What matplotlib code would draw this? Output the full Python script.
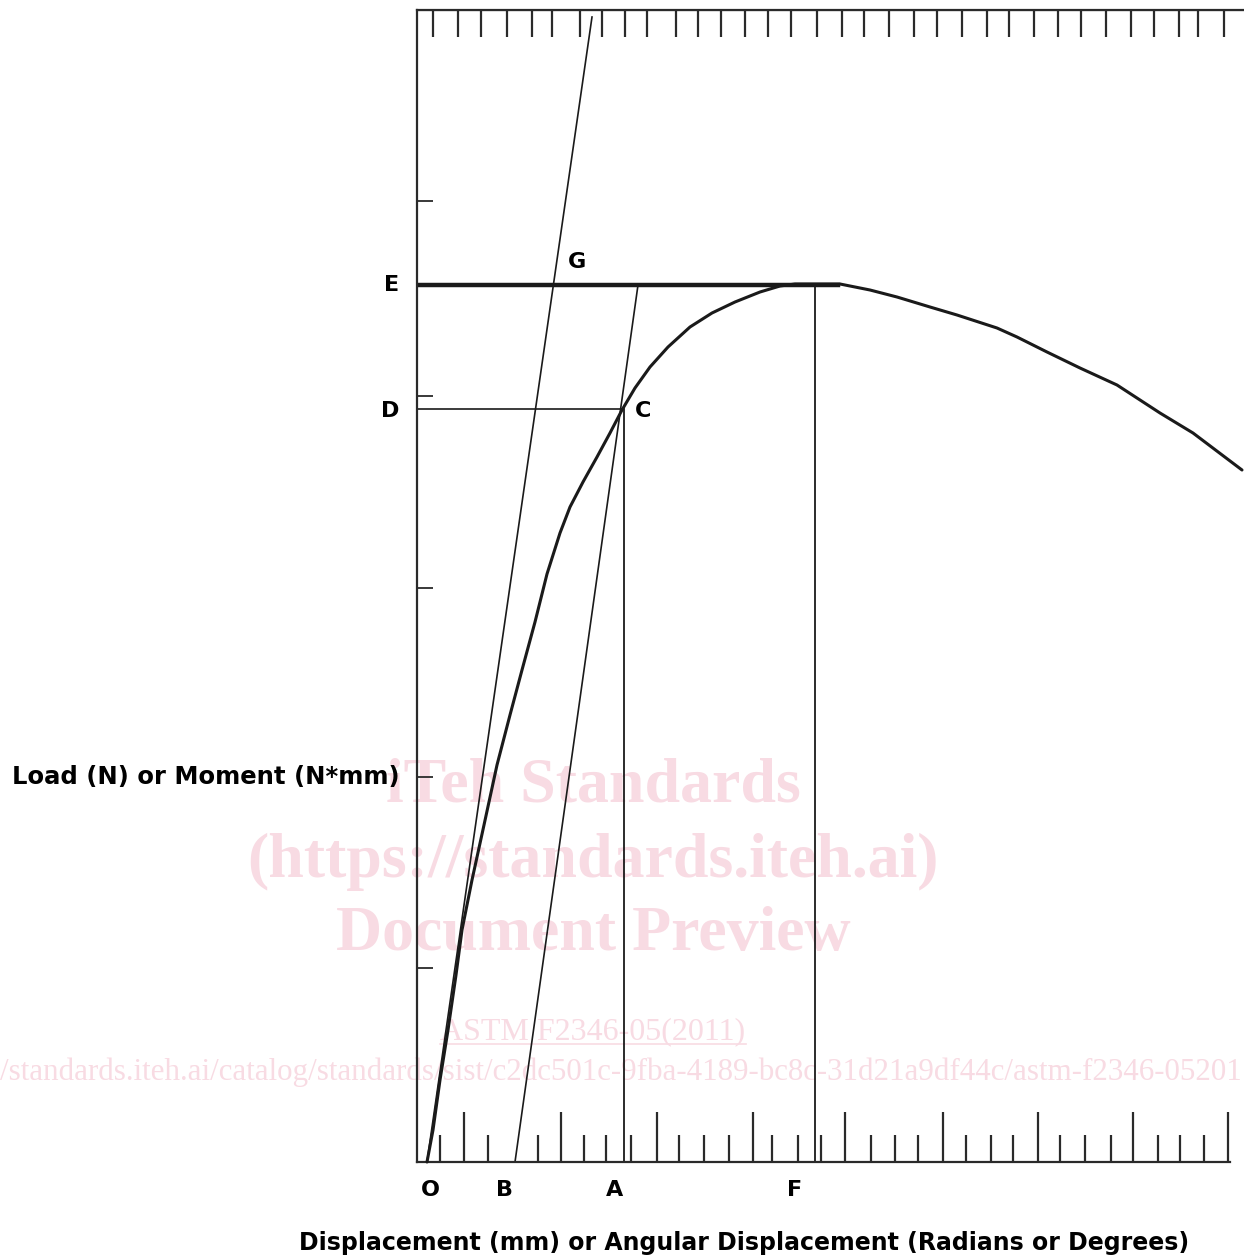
import numpy as np
import matplotlib
matplotlib.use("Agg")
import matplotlib.pyplot as plt
from matplotlib.lines import Line2D

# load-displacement curve (arbitrary units)
curve_x = [10, 16, 23, 31, 39, 45, 55, 67, 80, 93, 105, 118, 130, 143, 153, 166,
           180, 193, 205, 218, 233, 251, 273, 295, 318, 343, 363, 378, 400, 423,
           453, 480, 513, 540, 580, 600, 630, 663, 700, 743, 776, 825]
curve_y = [0, 32, 82, 132, 187, 232, 282, 337, 397, 447, 492, 540, 588, 629, 655, 680,
           705, 729, 752, 774, 795, 815, 835, 849, 860, 870, 876, 878, 878, 878,
           872, 865, 855, 847, 834, 825, 810, 794, 777, 749, 729, 692]

# construction lines
elastic_x = [10, 175]      # line O-G (initial slope)
elastic_y = [0, 1145]
offset_x = [98, 221]       # parallel line from B
offset_y = [0, 877]
load_E = 877
load_D = 753
disp_A = 207
disp_F = 398
E_end = 421

top_ticks = [16, 41, 64, 90, 115, 135, 163, 185, 208, 230, 259, 281, 304, 328, 351,
             374, 400, 425, 447, 472, 497, 520, 545, 570, 592, 617, 641, 664, 689,
             714, 737, 762, 781, 807]
bottom_long = [47, 144, 240, 336, 428, 526, 621, 716, 811]
bottom_short = [23, 71, 121, 167, 189, 214, 262, 287, 312, 355, 381, 404, 454, 478,
                501, 549, 574, 596, 643, 668, 694, 741, 763, 787]
left_ticks = [194, 385, 574, 766, 961]

x_letters = {"O": 13, "B": 88, "A": 198, "F": 378}

W, H = 1244, 1260
fig = plt.figure(figsize=(W / 100, H / 100), dpi=100)
ax = fig.add_axes([417 / W, (H - 1162) / H, (W - 417) / W, 1152 / H])
ax.set_xlim(0, 827)
ax.set_ylim(0, 1152)
ax.patch.set_alpha(0)

ink = "#1a1a1a"
for side in ["left", "bottom", "top"]:
    ax.spines[side].set_linewidth(1.6)
    ax.spines[side].set_color("#2a2a2a")
ax.spines["right"].set_visible(False)
ax.spines["bottom"].set_bounds(0, 813)

ax.set_xticks(bottom_long)
ax.set_xticks(bottom_short, minor=True)
ax.set_yticks(left_ticks)
ax.set_xticklabels([])
ax.set_yticklabels([])
ax.tick_params(axis="x", which="major", direction="in", length=36, width=1.6, color="#2a2a2a")
ax.tick_params(axis="x", which="minor", direction="in", length=19.5, width=1.6, color="#2a2a2a")
ax.tick_params(axis="y", direction="in", length=11.5, width=1.3, color="#2a2a2a")

top = ax.secondary_xaxis("top")
top.set_xticks(top_ticks)
top.set_xticklabels([])
top.tick_params(direction="in", length=19.5, width=1.6, color="#2a2a2a")

# watermark (drawn underneath everything)
wm = "#f8dbe3"
serif = "Liberation Serif"
fig.text(593 / W, 1 - 787 / H, "iTeh Standards", ha="center", va="center",
         fontsize=46, fontweight="bold", family=serif, color=wm, zorder=-1)
fig.text(593 / W, 1 - 862 / H, "(https://standards.iteh.ai)", ha="center", va="center",
         fontsize=46, fontweight="bold", family=serif, color=wm, zorder=-1)
fig.text(593 / W, 1 - 935 / H, "Document Preview", ha="center", va="center",
         fontsize=46, fontweight="bold", family=serif, color=wm, zorder=-1)
astm = fig.text(593 / W, 1 - 1032 / H, "ASTM F2346-05(2011)", ha="center", va="center",
                fontsize=23, family=serif, color=wm, zorder=-1)
fig.text(0, 1 - 1072 / H,
         "/standards.iteh.ai/catalog/standards/sist/c2dc501c-9fba-4189-bc8c-31d21a9df44c/astm-f2346-05201",
         ha="left", va="center", fontsize=22.3, family=serif, color=wm, zorder=-1)

# curve and construction lines
ax.plot(curve_x, curve_y, color=ink, lw=2.2, solid_joinstyle="round",
        solid_capstyle="round", clip_on=False, zorder=3)
ax.plot(elastic_x, elastic_y, color=ink, lw=1.2, zorder=2)
ax.plot(offset_x, offset_y, color=ink, lw=1.2, zorder=2)
ax.plot([0, E_end], [load_E, load_E], color=ink, lw=3.2, zorder=2)
ax.plot([0, disp_A - 2], [load_D, load_D], color=ink, lw=1.2, zorder=2)
ax.plot([disp_A, disp_A], [0, load_D], color=ink, lw=1.3, zorder=2)
ax.plot([disp_F, disp_F], [0, load_E], color=ink, lw=1.3, zorder=2)

lab = dict(fontsize=16, fontweight="bold", color="black", family="DejaVu Sans")
ax.text(-25, load_E, "E", ha="center", va="center", clip_on=False, **lab)
ax.text(-27, load_D - 2, "D", ha="center", va="center", clip_on=False, **lab)
ax.text(160, 900, "G", ha="center", va="center", clip_on=False, **lab)
ax.text(226, load_D - 2, "C", ha="center", va="center", clip_on=False, **lab)
for name, xv in x_letters.items():
    ax.text(xv, -28, name, ha="center", va="center", clip_on=False, **lab)

ax.text(-17, 385, "Load (N) or Moment (N*mm)", ha="right", va="center", clip_on=False,
        fontsize=17.5, fontweight="bold", color="black", family="DejaVu Sans")
fig.text(744 / W, 1 - 1243 / H,
         "Displacement (mm) or Angular Displacement (Radians or Degrees)",
         ha="center", va="center", fontsize=17, fontweight="bold", color="black",
         family="DejaVu Sans")

fig.canvas.draw()
bb = astm.get_window_extent()
fig.add_artist(Line2D([bb.x0 / W, bb.x1 / W], [(bb.y0 + 3) / H, (bb.y0 + 3) / H],
                      color=wm, lw=1.2, zorder=-1))

fig.savefig("out.png", dpi=100)
